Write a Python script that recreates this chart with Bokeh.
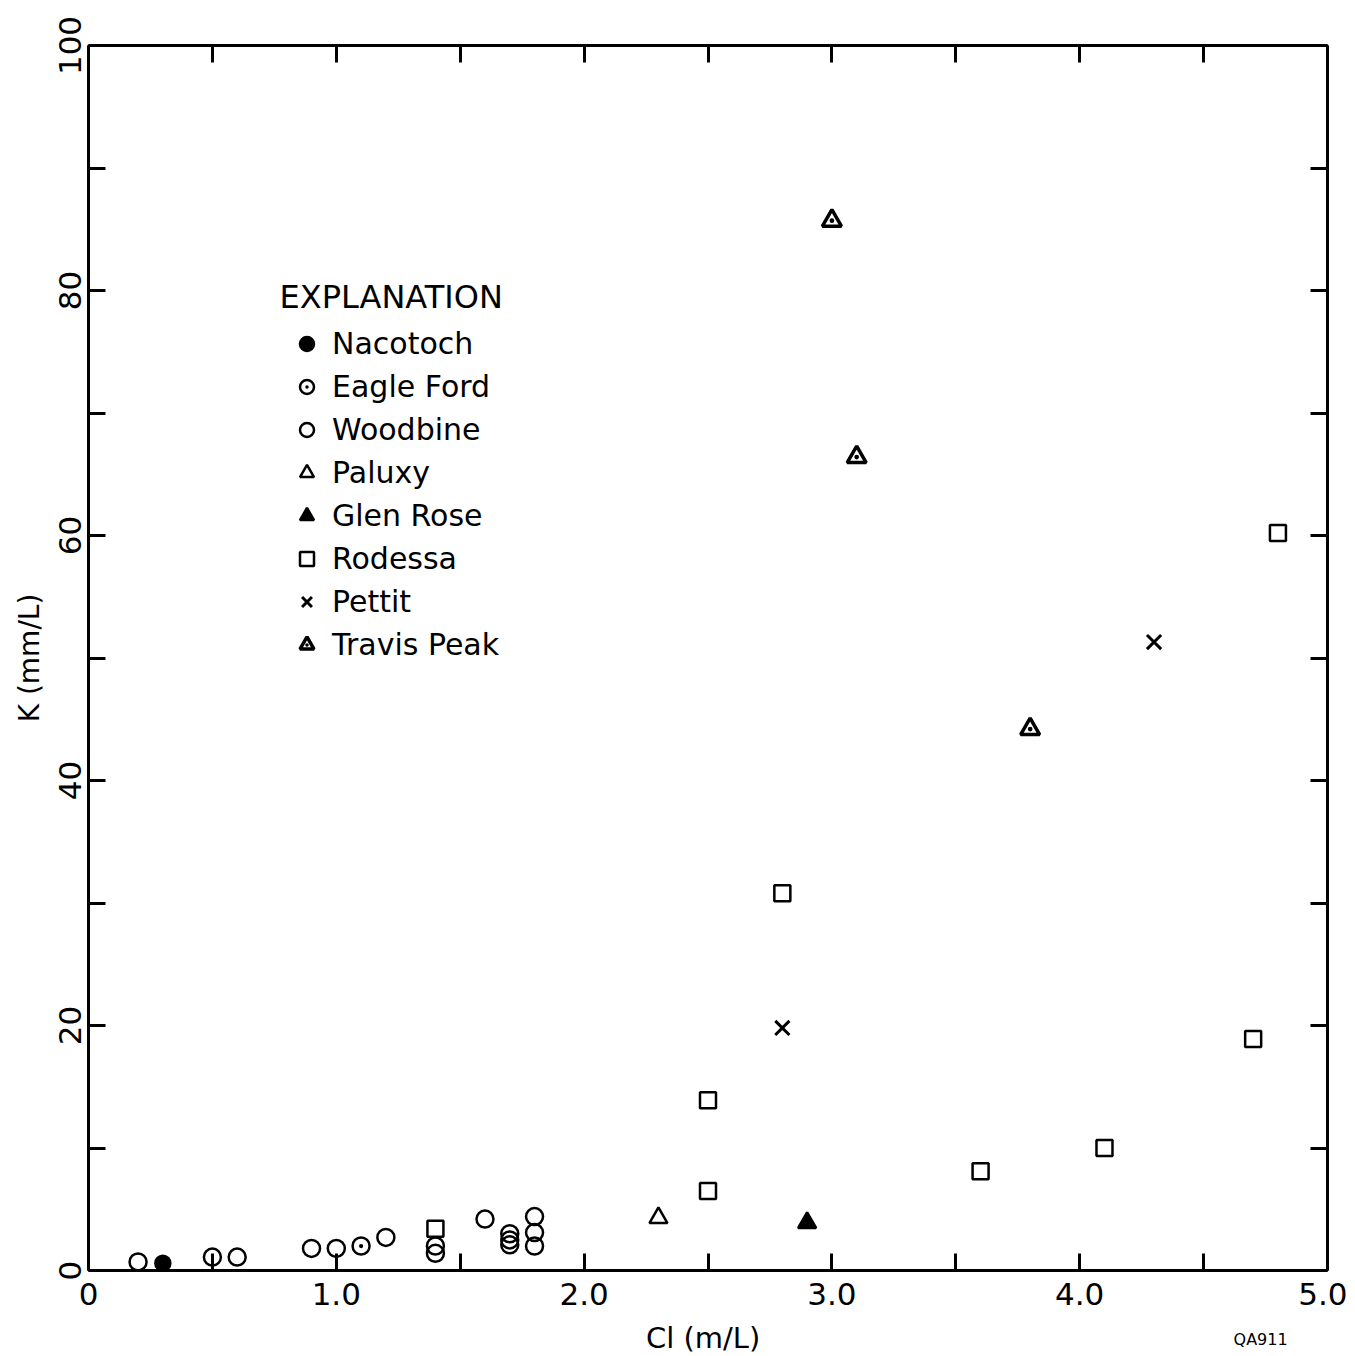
from bokeh.plotting import figure
from bokeh.layouts import column
from bokeh.models import (Range1d, FixedTicker, LinearAxis, Legend, LegendItem, Label)
from bokeh.embed import file_html
from bokeh.resources import INLINE

# ---- data ----
nacotoch_x = [0.3]
nacotoch_y = [0.6]
eagle_ford_x = [1.1]
eagle_ford_y = [2.0]
woodbine_x = [0.2, 0.5, 0.6, 0.9, 1.0, 1.2, 1.4, 1.4, 1.6, 1.7, 1.7, 1.7, 1.8, 1.8, 1.8]
woodbine_y = [0.7, 1.1, 1.1, 1.8, 1.8, 2.7, 2.0, 1.4, 4.2, 3.0, 2.5, 2.1, 4.4, 3.1, 2.0]
paluxy_x = [2.3]
paluxy_y = [4.3]
glen_rose_x = [2.9]
glen_rose_y = [3.9]
rodessa_x = [1.4, 2.5, 2.5, 2.8, 3.6, 4.1, 4.7, 4.8]
rodessa_y = [3.4, 6.5, 13.9, 30.8, 8.1, 10.0, 18.9, 60.2]
pettit_x = [2.8, 4.3]
pettit_y = [19.8, 51.3]
travis_peak_x = [3.0, 3.1, 3.8]
travis_peak_y = [85.7, 66.4, 44.2]

x_ticks = [0, 0.5, 1.0, 1.5, 2.0, 2.5, 3.0, 3.5, 4.0, 4.5, 5.0]
x_tick_labels = {0: "0", 0.5: "", 1.0: "1.0", 1.5: "", 2.0: "2.0", 2.5: "",
                 3.0: "3.0", 3.5: "", 4.0: "4.0", 4.5: "", 5.0: "5.0"}
y_ticks = [0, 10, 20, 30, 40, 50, 60, 70, 80, 90, 100]
y_tick_labels = {0: "0", 10: "", 20: "20", 30: "", 40: "40", 50: "",
                 60: "60", 70: "", 80: "80", 90: "", 100: "100"}
x_title = "Cl (m/L)"
y_title = "K (mm/L)"
figure_code = "QA911"

FONT = "DejaVu Sans"

p = figure(frame_width=1239, frame_height=1225, output_backend="svg", toolbar_location=None,
           x_range=Range1d(0, 5), y_range=Range1d(0, 100),
           y_axis_label=y_title,
           min_border_left=88, min_border_right=20, min_border_top=45, min_border_bottom=50)
p.grid.visible = False
p.outline_line_color = None
p.background_fill_color = "white"
p.border_fill_color = "white"

def style_axis(ax, ticks, labels, show_labels):
    ax.ticker = FixedTicker(ticks=ticks)
    ax.minor_tick_line_color = None
    ax.major_tick_in = 17
    ax.major_tick_out = 0
    ax.major_tick_line_width = 3
    ax.major_tick_line_color = "black"
    ax.axis_line_width = 3
    ax.axis_line_color = "black"
    if show_labels:
        ax.major_label_overrides = labels
        ax.major_label_text_font = FONT
        ax.major_label_text_font_size = "31px"
        ax.major_label_text_color = "black"
        ax.axis_label_text_font = FONT
        ax.axis_label_text_font_size = "28px"
        ax.axis_label_text_font_style = "normal"
        ax.axis_label_text_color = "black"
    else:
        ax.major_label_text_font_size = "0px"
        ax.major_label_standoff = 0

xa = p.xaxis[0]
ya = p.yaxis[0]
style_axis(xa, x_ticks, x_tick_labels, True)
style_axis(ya, y_ticks, y_tick_labels, True)
xa.major_label_standoff = 12
ya.major_label_orientation = "parallel"
ya.major_label_standoff = 8
ya.axis_label_standoff = 10

top = LinearAxis()
right = LinearAxis()
style_axis(top, x_ticks, x_tick_labels, False)
style_axis(right, y_ticks, y_tick_labels, False)
p.add_layout(top, "above")
p.add_layout(right, "right")

lw = 2.5
r_nac = p.scatter(nacotoch_x, nacotoch_y, marker="circle", size=15,
                  fill_color="black", line_color="black", line_width=lw)
r_eag = p.scatter(eagle_ford_x, eagle_ford_y, marker="circle_dot", size=17,
                  fill_color="white", fill_alpha=0, line_color="black", line_width=lw)
r_woo = p.scatter(woodbine_x, woodbine_y, marker="circle", size=17,
                  fill_alpha=0, line_color="black", line_width=lw)
r_pal = p.scatter(paluxy_x, paluxy_y, marker="triangle", size=18,
                  fill_alpha=0, line_color="black", line_width=lw)
r_gle = p.scatter(glen_rose_x, glen_rose_y, marker="triangle", size=18,
                  fill_color="black", line_color="black", line_width=lw)
r_rod = p.scatter(rodessa_x, rodessa_y, marker="square", size=16,
                  fill_alpha=0, line_color="black", line_width=lw)
r_pet = p.scatter(pettit_x, pettit_y, marker="x", size=20,
                  line_color="black", line_width=3)
r_tra = p.scatter(travis_peak_x, travis_peak_y, marker="triangle_dot", size=19,
                  fill_color="white", fill_alpha=0, line_color="black", line_width=3.5)

legend = Legend(items=[
    LegendItem(label="Nacotoch", renderers=[r_nac]),
    LegendItem(label="Eagle Ford", renderers=[r_eag]),
    LegendItem(label="Woodbine", renderers=[r_woo]),
    LegendItem(label="Paluxy", renderers=[r_pal]),
    LegendItem(label="Glen Rose", renderers=[r_gle]),
    LegendItem(label="Rodessa", renderers=[r_rod]),
    LegendItem(label="Pettit", renderers=[r_pet]),
    LegendItem(label="Travis Peak", renderers=[r_tra]),
], location=(201, 608), orientation="vertical")
legend.glyph_width = 35
legend.glyph_height = 35
legend.label_height = 35
legend.spacing = 8
legend.padding = 0
legend.margin = 0
legend.label_standoff = 8
legend.label_text_font = FONT
legend.label_text_font_size = "30px"
legend.label_text_color = "black"
legend.border_line_alpha = 0
legend.background_fill_alpha = 0
p.add_layout(legend, "center")

p.add_layout(Label(x=191, y=955, x_units="screen", y_units="screen",
                   text="EXPLANATION", text_font=FONT, text_font_size="32px",
                   text_color="black"))

# strip below the plot carrying the x-axis title and the figure code
p2 = figure(frame_width=1239, frame_height=34, output_backend="svg", toolbar_location=None,
            x_range=p.x_range, y_range=Range1d(0, 1),
            x_axis_type=None, y_axis_type=None,
            min_border_left=88, min_border_right=20, min_border_top=0, min_border_bottom=0)
p2.grid.visible = False
p2.outline_line_color = None
p2.background_fill_color = "white"
p2.border_fill_color = "white"
p2.add_layout(Label(x=2.48, y=0.5, text=x_title, text_align="center", text_baseline="middle",
                    text_font=FONT, text_font_size="29px", text_color="black"))
p2.add_layout(Label(x=4.73, y=0.45, text=figure_code, text_align="center", text_baseline="middle",
                    text_font=FONT, text_font_size="16px", text_color="black"))

layout = column(p, p2, spacing=0)
open("out.html", "w").write(file_html(layout, INLINE))
